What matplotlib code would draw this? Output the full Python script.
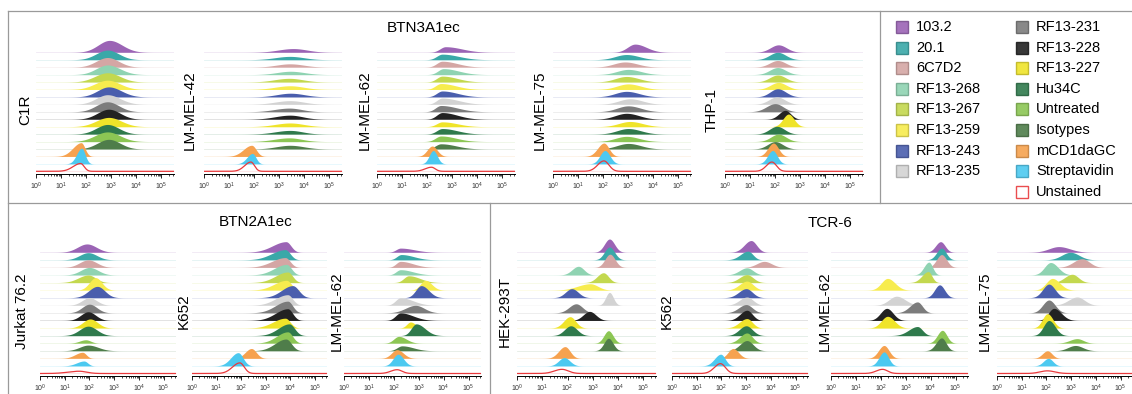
import numpy as np
import matplotlib.pyplot as plt
from matplotlib.lines import Line2D
from matplotlib.patches import Rectangle
from matplotlib.colors import to_rgb
from matplotlib.ticker import LogLocator, NullFormatter

plt.rcParams['font.family'] = ['Liberation Sans', 'DejaVu Sans']
plt.rcParams['mathtext.default'] = 'regular'

# samples, top row of each panel first
SAMPLES = ['103.2', '20.1', '6C7D2', 'RF13-268', 'RF13-267', 'RF13-259', 'RF13-243',
           'RF13-235', 'RF13-231', 'RF13-228', 'RF13-227', 'Hu34C', 'Untreated',
           'Isotypes', 'mCD1daGC', 'Streptavidin', 'Unstained']
COLORS = ['#9b64b5', '#3aa8a8', '#d4a6a4', '#8fd3b2', '#c3d84f', '#f7ec4e', '#4a5ead',
          '#d3d3d3', '#7c7c7c', '#222222', '#efe42a', '#2f7a4c', '#8cc654',
          '#4f7d4a', '#f6a24f', '#4cc9f0', '#e8393c']

# each peak: (log10 of mode, left width, right width [decades], height [row units])
BTN3_C1R = [(2.93, .45, .5, 1.6), (2.85, .45, .45, 1.3), (2.85, .45, .45, 1.3),
            (2.85, .45, .5, 1.3), (2.85, .5, .5, 1.25), (2.85, .5, .5, 1.25),
            (2.9, .45, .5, 1.35), (2.85, .45, .5, 1.3), (2.85, .45, .45, 1.35),
            (2.9, .45, .45, 1.35), (2.9, .5, .5, 1.25), (2.85, .45, .45, 1.3),
            (2.85, .5, .5, 1.3), (2.9, .45, .45, 1.3), (1.8, .33, .15, 1.85),
            (1.82, .2, .14, 2.1), (1.78, .3, .14, 1.05)]
BTN3_MEL42 = [(3.56, .6, .55, .5), (3.43, .6, .55, .45), (3.43, .55, .55, .45),
              (3.45, .55, .55, .45), (3.4, .6, .55, .5), (3.43, .6, .55, .5),
              (3.45, .55, .55, .5), (3.43, .6, .55, .5), (3.4, .6, .5, .5),
              (3.43, .6, .5, .55), (3.43, .6, .55, .5), (3.43, .6, .5, .5),
              (3.4, .6, .5, .5), (3.43, .55, .55, .5), (1.9, .33, .18, 1.5),
              (1.93, .22, .14, 1.4), (1.87, .25, .14, 1.25)]
BTN3_MEL62 = [(2.73, .22, .65, .75), (2.6, .22, .65, .75), (2.6, .22, .6, .8),
              (2.65, .22, .6, .8), (2.6, .22, .6, .8), (2.55, .22, .6, .8),
              (2.6, .22, .6, .8), (2.6, .22, .65, .85), (2.55, .22, .65, .85),
              (2.6, .22, .6, .9), (2.6, .22, .6, .65), (2.6, .22, .6, .75),
              (2.55, .22, .6, .75), (2.55, .22, .6, .7), (2.2, .2, .2, 1.4),
              (2.24, .16, .16, 1.8), (2.17, .25, .15, .55)]
BTN3_MEL75 = [(3.27, .3, .45, 1.1), (2.93, .45, .5, .7), (2.87, .45, .5, .7),
              (3.0, .45, .5, .7), (2.93, .45, .5, .75), (3.0, .45, .5, .75),
              (2.93, .45, .5, .75), (3.07, .45, .5, .75), (3.0, .45, .5, .8),
              (2.93, .45, .5, .8), (3.07, .45, .5, .7), (3.0, .45, .5, .75),
              (2.93, .45, .5, .7), (3.0, .45, .5, .75), (2.03, .25, .2, 1.8),
              (2.07, .2, .2, 1.8), (2.03, .25, .2, 1.4)]
BTN3_THP1 = [(2.13, .32, .32, 1.0), (2.1, .32, .32, 1.0), (2.1, .32, .32, .9),
             (2.1, .32, .32, .95), (2.1, .32, .32, .95), (2.13, .32, .32, .95),
             (2.1, .3, .32, 1.1), (2.07, .32, .32, 1.0), (2.0, .35, .32, 1.1),
             (2.4, .25, .22, 1.2), (2.53, .22, .22, 1.7), (2.07, .3, .3, 1.05),
             (2.13, .3, .3, 1.0), (2.0, .3, .3, 1.0), (1.93, .22, .2, 1.8),
             (1.9, .2, .18, 1.8), (1.87, .22, .18, 1.25)]
BTN2_JURKAT = [(1.9, .38, .38, 1.1), (1.95, .35, .35, .95), (1.95, .35, .35, 1.0),
               (2.0, .35, .35, 1.0), (1.95, .4, .3, 1.0), (2.25, .25, .25, 1.65),
               (2.32, .35, .3, 1.5), (2.0, .3, .3, 1.0), (2.0, .3, .3, 1.15),
               (1.95, .3, .3, 1.15), (2.03, .3, .3, 1.2), (1.95, .35, .35, 1.25),
               (1.85, .25, .2, .45), (1.95, .35, .4, .75), (1.72, .3, .15, .8),
               (1.78, .3, .15, .65), (1.58, .45, .3, .3)]
BTN2_K652 = [(3.83, .55, .2, 1.4), (3.8, .55, .2, 1.35), (3.8, .55, .2, 1.3),
             (3.85, .5, .2, 1.4), (3.9, .5, .2, 1.4), (3.85, .5, .2, 1.3),
             (4.1, .45, .25, 1.6), (3.9, .5, .2, 1.4), (3.9, .5, .2, 1.55),
             (3.9, .5, .2, 1.55), (3.8, .5, .2, 1.3), (3.96, .45, .22, 1.55),
             (3.9, .45, .2, 1.5), (3.83, .45, .22, 1.55), (2.42, .25, .2, 1.3),
             (1.88, .3, .2, 1.75), (1.95, .3, .18, 1.4)]
BTN2_MEL62 = [(2.27, .18, .55, .55), (2.3, .18, .5, .7), (2.27, .18, .5, .8),
              (2.27, .18, .5, .7), (2.6, .2, .45, .9), (3.27, .2, .25, 1.3),
              (3.1, .22, .3, 1.6), (2.27, .2, .5, 1.0), (2.87, .4, .35, 1.0),
              (2.27, .2, .5, 1.0), (2.67, .15, .2, .8), (2.9, .2, .35, 1.55),
              (2.2, .2, .3, .9), (2.33, .2, .45, .65), (2.13, .22, .25, 1.15),
              (2.17, .2, .22, 1.55), (2.13, .25, .2, .5)]
TCR_HEK = [(3.66, .2, .2, 1.75), (3.66, .2, .2, 1.7), (3.68, .2, .2, 1.75),
           (2.43, .25, .22, 1.15), (3.42, .25, .2, 1.3), (2.9, .5, .3, .85),
           (2.17, .25, .25, 1.2), (3.66, .15, .15, 1.7), (2.34, .28, .25, 1.2),
           (2.87, .25, .25, 1.2), (2.1, .25, .22, 1.5), (2.13, .25, .25, 1.3),
           (3.62, .18, .18, 1.65), (3.62, .18, .18, 1.65), (1.9, .25, .2, 1.55),
           (1.87, .22, .22, 1.1), (1.78, .3, .25, .55)]
TCR_K562 = [(3.2, .28, .22, 1.55), (3.07, .3, .2, 1.15), (3.73, .3, .3, .8),
            (3.03, .3, .25, .95), (3.03, .3, .25, 1.05), (3.03, .3, .25, 1.2),
            (3.0, .3, .25, 1.2), (3.03, .3, .25, 1.1), (3.0, .3, .25, 1.1),
            (3.03, .28, .22, 1.35), (3.03, .3, .22, 1.25), (3.0, .28, .25, 1.3),
            (3.03, .28, .22, 1.35), (3.03, .28, .25, 1.35), (2.47, .2, .22, 1.3),
            (1.97, .25, .18, 1.55), (1.96, .25, .2, 1.3)]
TCR_MEL62 = [(4.4, .2, .18, 1.4), (4.44, .2, .18, 1.55), (4.44, .2, .2, 1.7),
             (3.93, .2, .15, 1.7), (3.9, .25, .15, 1.45), (2.27, .25, .3, 1.55),
             (4.36, .2, .2, 1.7), (2.63, .3, .35, 1.2), (3.47, .3, .2, 1.45),
             (2.24, .25, .25, 1.6), (2.27, .25, .28, 1.55), (3.47, .35, .2, 1.2),
             (4.47, .2, .18, 1.7), (4.44, .22, .18, 1.7), (2.13, .22, .2, 1.7),
             (2.13, .2, .18, 1.85), (2.07, .25, .2, .55)]
TCR_MEL75 = [(2.5, .4, .45, .75), (2.97, .35, .35, 1.0), (3.44, .35, .3, 1.15),
             (2.17, .25, .3, 1.65), (3.04, .3, .25, 1.1), (2.24, .25, .3, 1.55),
             (2.1, .25, .25, 1.8), (3.24, .35, .3, 1.1), (2.1, .25, .25, 1.7),
             (2.3, .22, .3, 1.6), (2.04, .2, .22, 1.9), (2.1, .22, .25, 2.0),
             (3.24, .3, .25, .6), (3.17, .3, .3, .7), (2.04, .2, .18, 1.0),
             (2.08, .2, .18, 1.0), (2.04, .3, .3, .35)]

TOP_PANELS = [('C1R', BTN3_C1R), ('LM-MEL-42', BTN3_MEL42), ('LM-MEL-62', BTN3_MEL62),
              ('LM-MEL-75', BTN3_MEL75), ('THP-1', BTN3_THP1)]
BOTTOM_PANELS = [('Jurkat 76.2', BTN2_JURKAT), ('K652', BTN2_K652), ('LM-MEL-62', BTN2_MEL62),
                 ('HEK-293T', TCR_HEK), ('K562', TCR_K562), ('LM-MEL-62', TCR_MEL62),
                 ('LM-MEL-75', TCR_MEL75)]

W, H = 1132, 394
fig = plt.figure(figsize=(W / 100, H / 100), dpi=100)


def fx(px):
    return px / W


def fy(py):
    return 1 - py / H


def draw_panel(left, width, top, bottom, ylim, peaks):
    ax = fig.add_axes([fx(left), fy(bottom), width / W, (bottom - top) / H])
    ax.set_facecolor('none')
    x = np.logspace(0, 5.5, 800)
    lx = np.log10(x)
    n = len(peaks)
    for i, ((mu, sl, sr, h), name, col) in enumerate(zip(peaks, SAMPLES, COLORS)):
        base = n - 1 - i
        sig = np.where(lx < mu, sl, sr)
        y = base + h * np.exp(-0.5 * ((lx - mu) / sig) ** 2)
        if name == 'Unstained':
            ax.fill_between(x, base, base + 0.12, color=col, alpha=0.15, lw=0, zorder=i + 1)
            ax.plot(x, y, color=col, lw=0.9, zorder=i + 1)
        else:
            ax.axhline(base, color=col, alpha=0.15, lw=0.6, zorder=i + 0.5)
            ax.fill_between(x, base, y, color=col, lw=0, zorder=i + 1)
    ax.set_xscale('log')
    ax.set_xlim(1, 10 ** 5.5)
    ax.set_ylim(*ylim)
    ax.set_yticks([])
    for s in ['left', 'right', 'top']:
        ax.spines[s].set_visible(False)
    ax.spines['bottom'].set_linewidth(0.7)
    ax.xaxis.set_major_locator(LogLocator(base=10, numticks=10))
    ax.xaxis.set_minor_locator(LogLocator(base=10, subs=np.arange(2, 10), numticks=12))
    ax.xaxis.set_minor_formatter(NullFormatter())
    ax.tick_params(axis='x', which='major', length=3, width=0.6, labelsize=5,
                   pad=1.5, labelcolor='#333333')
    ax.tick_params(axis='x', which='minor', length=1.6, width=0.5)
    return ax


# top block: BTN3A1ec
top_lefts = [36, 204, 377, 553, 725]
top_labels_x = [25, 190, 365, 540, 712]
for (name, peaks), lft, lx_ in zip(TOP_PANELS, top_lefts, top_labels_x):
    draw_panel(lft, 138, 20, 174.3, (-0.4, 20.34), peaks)
    fig.text(fx(lx_), fy(110), name, rotation=90, ha='center', va='center', fontsize=11)

# bottom blocks: BTN2A1ec and TCR-6
bot_lefts = [40, 192, 344, 517, 672, 831, 997]
bot_widths = [136, 135, 137, 139, 136, 137, 136]
bot_labels_x = [22, 184, 337, 505, 667, 825, 985]
for (name, peaks), lft, wd, lx_ in zip(BOTTOM_PANELS, bot_lefts, bot_widths, bot_labels_x):
    draw_panel(lft, wd, 225, 376, (-0.33, 19.6), peaks)
    fig.text(fx(lx_), fy(311), name, rotation=90, ha='center', va='center', fontsize=11)

fig.text(fx(424), fy(28), 'BTN3A1ec', ha='center', va='center', fontsize=11)
fig.text(fx(256), fy(222), 'BTN2A1ec', ha='center', va='center', fontsize=11)
fig.text(fx(830), fy(223), 'TCR-6', ha='center', va='center', fontsize=11)

# frame lines
border = '#9a9a9a'
for (x0, y0, x1, y1) in [(8, 11, W, 11), (8, 11, 8, H), (880, 11, 880, 203),
                         (8, 203, W, 203), (490, 203, 490, H)]:
    fig.add_artist(Line2D([fx(x0), fx(x1)], [fy(y0), fy(y1)], color=border, lw=0.9))

# legend, two columns
for k, (name, col) in enumerate(zip(SAMPLES, COLORS)):
    c, r = (0, k) if k < 8 else (1, k - 8)
    sx = 896 if c == 0 else 1016
    cy = 27 + r * 20.6
    if name == 'Unstained':
        face, edge = 'white', col
    else:
        face, edge = col, tuple(v * 0.8 for v in to_rgb(col))
    fig.add_artist(Rectangle((fx(sx), fy(cy + 6)), 12 / W, 12 / H, facecolor=face,
                             edgecolor=edge, lw=1.0, alpha=0.9))
    fig.text(fx(sx + 20), fy(cy), name, ha='left', va='center', fontsize=10.5)

fig.savefig('out.png', dpi=100)
